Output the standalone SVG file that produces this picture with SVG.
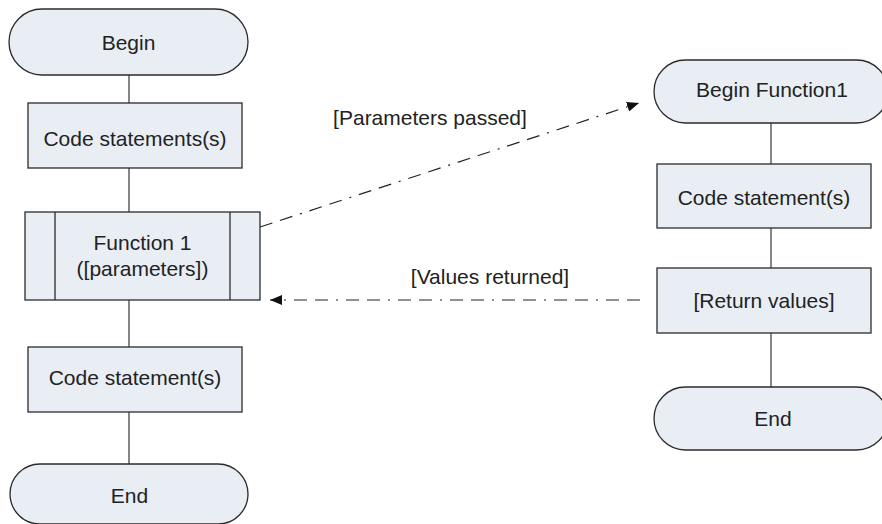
<svg xmlns="http://www.w3.org/2000/svg" width="882" height="524" viewBox="0 0 882 524">
<defs>
<style>
.shape{fill:#e9eef5;stroke:#2b2b2b;stroke-width:1.3}
.t{font-family:"Liberation Sans",Arial,sans-serif;font-size:21px;fill:#222;text-anchor:middle}
.flow{stroke:#444;stroke-width:1.3;fill:none}
.dash{stroke:#222;stroke-width:1.2;fill:none;stroke-dasharray:13 8 13 8 2 8}
</style>
<marker id="ah" viewBox="0 0 12 10" refX="12" refY="5" markerWidth="12" markerHeight="10" markerUnits="userSpaceOnUse" orient="auto">
<path d="M0,0 L12,5 L0,10 z" fill="#111"/>
</marker>
</defs>
<rect width="882" height="524" fill="#fff"/>
<g id="connectors">
<line class="flow" x1="129" y1="75" x2="129" y2="103"/>
<line class="flow" x1="129" y1="168" x2="129" y2="212"/>
<line class="flow" x1="129" y1="300" x2="129" y2="347"/>
<line class="flow" x1="129" y1="412" x2="129" y2="464"/>
<line class="flow" x1="771" y1="123" x2="771" y2="164"/>
<line class="flow" x1="771" y1="228" x2="771" y2="268"/>
<line class="flow" x1="771" y1="333" x2="771" y2="387"/>
<line class="dash" x1="260" y1="227" x2="639" y2="103" marker-end="url(#ah)"/>
<line class="dash" x1="640" y1="300" x2="270" y2="300" marker-end="url(#ah)"/>
<text class="t" x="430" y="125">[Parameters passed]</text>
<text class="t" x="490" y="284">[Values returned]</text>
</g>
<g id="begin">
<rect class="shape" x="9" y="9" width="239" height="66" rx="33"/>
<text class="t" x="128.5" y="50">Begin</text>
</g>
<g id="code1">
<rect class="shape" x="28" y="103" width="214" height="65"/>
<text class="t" x="135" y="146">Code statements(s)</text>
</g>
<g id="function1">
<rect class="shape" x="25" y="212" width="235" height="88"/>
<line class="shape" x1="55" y1="212" x2="55" y2="300"/>
<line class="shape" x1="230" y1="212" x2="230" y2="300"/>
<text class="t" x="142.5" y="250">Function 1</text>
<text class="t" x="142.5" y="276">([parameters])</text>
</g>
<g id="code2">
<rect class="shape" x="28" y="347" width="214" height="65"/>
<text class="t" x="135" y="385">Code statement(s)</text>
</g>
<g id="end">
<rect class="shape" x="10" y="464" width="238" height="60" rx="30"/>
<text class="t" x="129.5" y="503">End</text>
</g>
<g id="beginFunction1">
<rect class="shape" x="654" y="60" width="234" height="63" rx="31.5"/>
<text class="t" x="772" y="97">Begin Function1</text>
</g>
<g id="code3">
<rect class="shape" x="657" y="164" width="214" height="64"/>
<text class="t" x="764" y="205">Code statement(s)</text>
</g>
<g id="returnValues">
<rect class="shape" x="657" y="268" width="214" height="65"/>
<text class="t" x="764" y="308">[Return values]</text>
</g>
<g id="end2">
<rect class="shape" x="654" y="387" width="234" height="63" rx="31.5"/>
<text class="t" x="773" y="426">End</text>
</g>
</svg>
